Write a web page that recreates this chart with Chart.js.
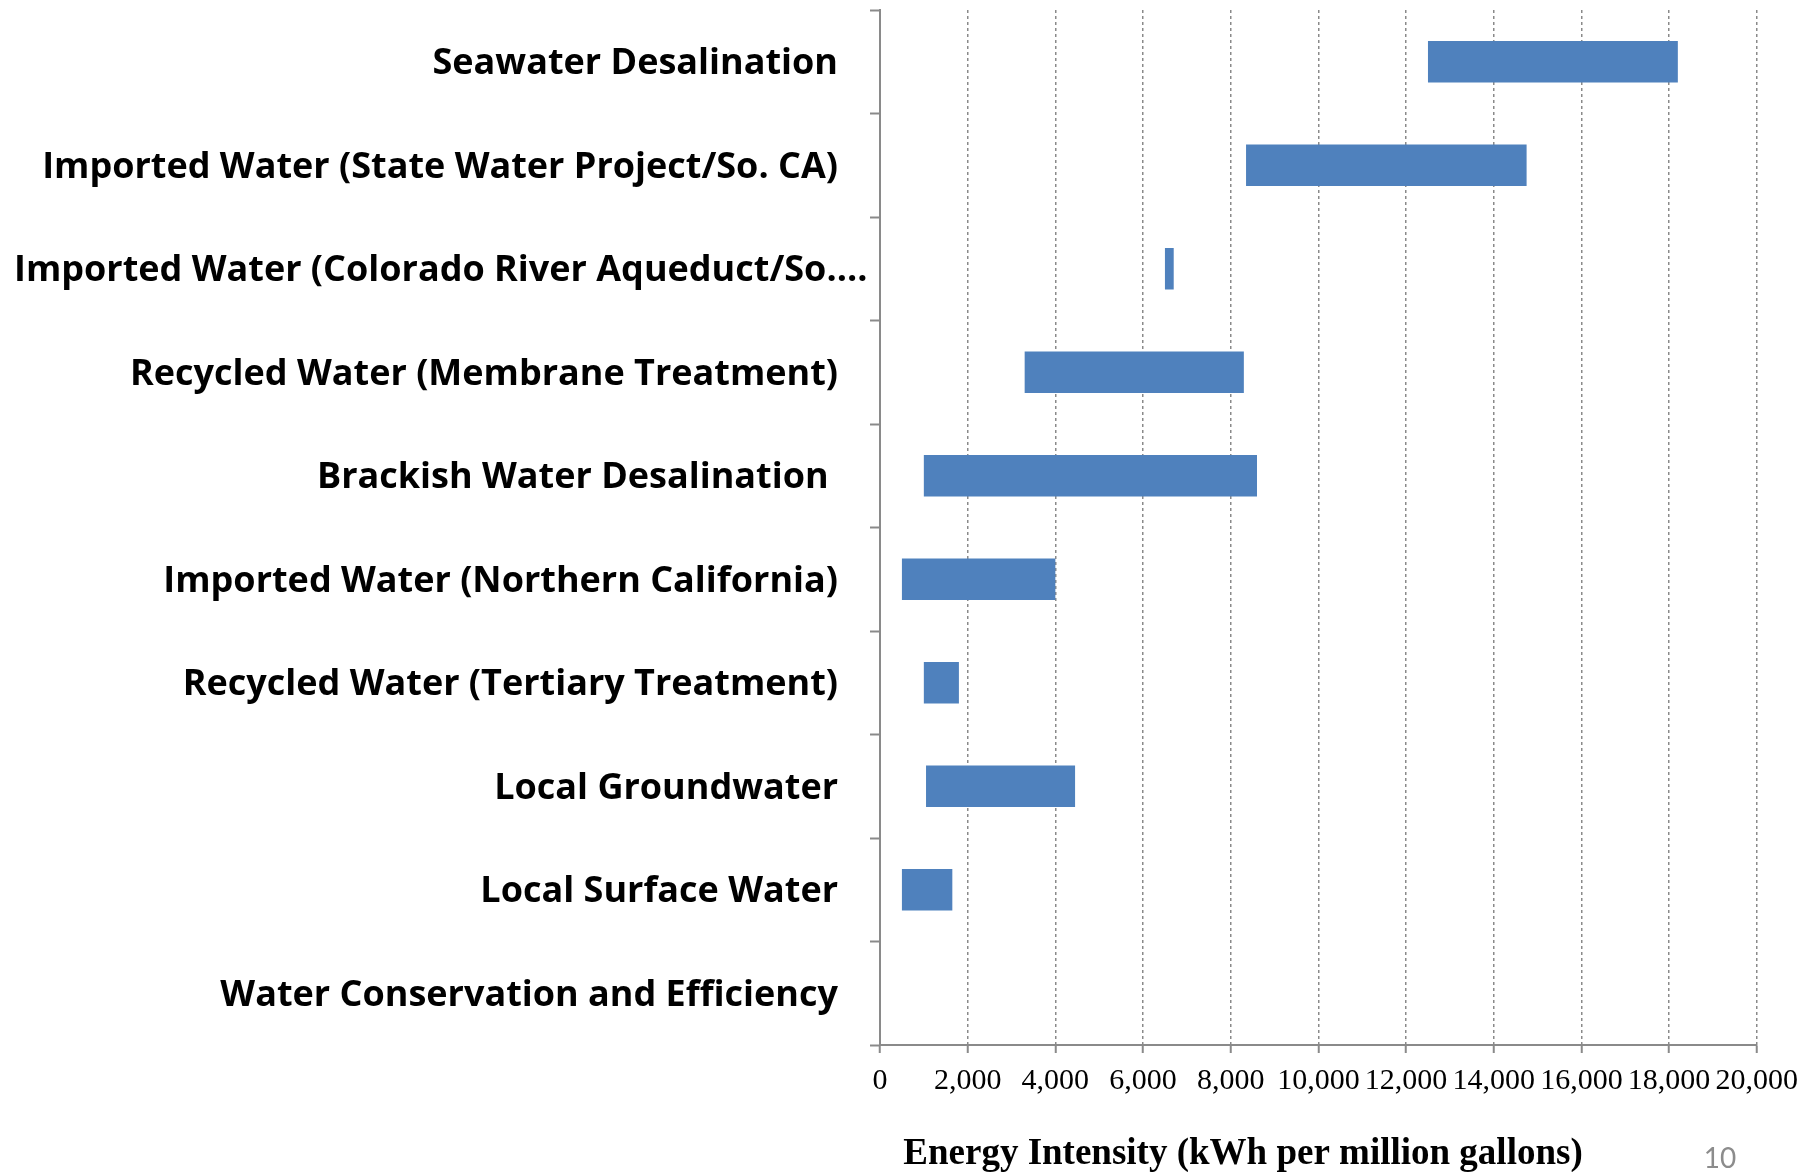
<!DOCTYPE html>
<html>
<head>
<meta charset="utf-8">
<title>Energy Intensity of Water Supply Sources</title>
<script src="https://cdn.jsdelivr.net/npm/chart.js@4/dist/chart.umd.min.js"></script>
<style>
  body { margin: 0; background: #fff; }
  #wrap { width: 1808px; height: 1172px; position: relative; }
</style>
</head>
<body>
<div id="wrap"><canvas id="grafico"></canvas></div>
<script>
// water supply sources, top to bottom
const categories = [
  "Seawater Desalination",
  "Imported Water (State Water Project/So. CA)",
  "Imported Water (Colorado River Aqueduct/So....",
  "Recycled Water (Membrane Treatment)",
  "Brackish Water Desalination ",
  "Imported Water (Northern California)",
  "Recycled Water (Tertiary Treatment)",
  "Local Groundwater",
  "Local Surface Water",
  "Water Conservation and Efficiency",
];
// low and high end of each range (kWh per million gallons)
const lowValues = [12500, 8350, 6500, 3300, 1000, 500, 1000, 1050, 500, 0];
const highValues = [18200, 14750, 6700, 8300, 8600, 4000, 1800, 4450, 1650, 0];

const xTitle = "Energy Intensity (kWh per million gallons)";
const pageNumber = "10";

// floating bars [start, end]
const ranges = categories.map((c, i) => [lowValues[i], highValues[i]]);

// category labels like Excel: right aligned, long ones overflow to the left margin
const labelsPlugin = {
  id: "labels",
  afterDraw(chart) {
    const ctx = chart.ctx;
    const y = chart.scales.y;
    const right = chart.chartArea.left - 42;
    ctx.save();
    ctx.font = "bold 36px 'Open Sans'";
    ctx.fillStyle = "#000";
    ctx.textBaseline = "middle";
    categories.forEach((label, i) => {
      const w = ctx.measureText(label).width;
      const py = y.getPixelForValue(i) + 2;
      if (right - w < 14) {
        ctx.textAlign = "left";
        ctx.fillText(label, 14, py);
      } else {
        ctx.textAlign = "right";
        ctx.fillText(label, right, py);
      }
    });
    // axis title (sits left of the plot centre in the original)
    ctx.font = "bold 37px 'Liberation Serif'";
    ctx.textAlign = "center";
    ctx.textBaseline = "alphabetic";
    ctx.fillText(xTitle, 1243, 1164);
    // slide number
    ctx.font = "28px Lato";
    ctx.fillStyle = "#8c8c8c";
    ctx.fillText(pageNumber, 1720, 1168);
    ctx.restore();
  },
};

const ctx = document.getElementById("grafico");

new Chart(ctx, {
  type: "bar",
  data: {
    labels: categories,
    datasets: [
      {
        data: ranges,
        backgroundColor: "#4F81BD",
        borderWidth: 0,
        barPercentage: 0.4,
        categoryPercentage: 1,
      },
    ],
  },
  options: {
    indexAxis: "y",
    responsive: true,
    maintainAspectRatio: false,
    animation: false,
    layout: { padding: { top: 10, right: 48, left: 0, bottom: 0 } },
    plugins: {
      legend: { display: false },
      tooltip: { enabled: false },
    },
    scales: {
      x: {
        type: "linear",
        min: 0,
        max: 20000,
        afterFit(scale) {
          scale.height = 127;
        },
        ticks: {
          stepSize: 2000,
          padding: 10,
          maxRotation: 0,
          minRotation: 0,
          autoSkip: false,
          color: "#000",
          font: { family: "'Liberation Serif'", size: 30 },
          callback: (v) => v.toLocaleString("en-US"),
        },
        grid: {
          color: "#8a8a8a",
          lineWidth: 1.5,
          tickLength: 8,
          tickColor: "#8a8a8a",
          tickWidth: 2,
        },
        border: { color: "#8a8a8a", width: 2, dash: [3, 3] },
      },
      y: {
        type: "category",
        afterFit(scale) {
          scale.width = 880;
        },
        ticks: { display: false },
        grid: {
          offset: true,
          drawOnChartArea: false,
          tickLength: 10,
          tickColor: "#8a8a8a",
          tickWidth: 2,
        },
        border: { color: "#8a8a8a", width: 2 },
      },
    },
  },
  plugins: [labelsPlugin],
});
</script>
</body>
</html>
